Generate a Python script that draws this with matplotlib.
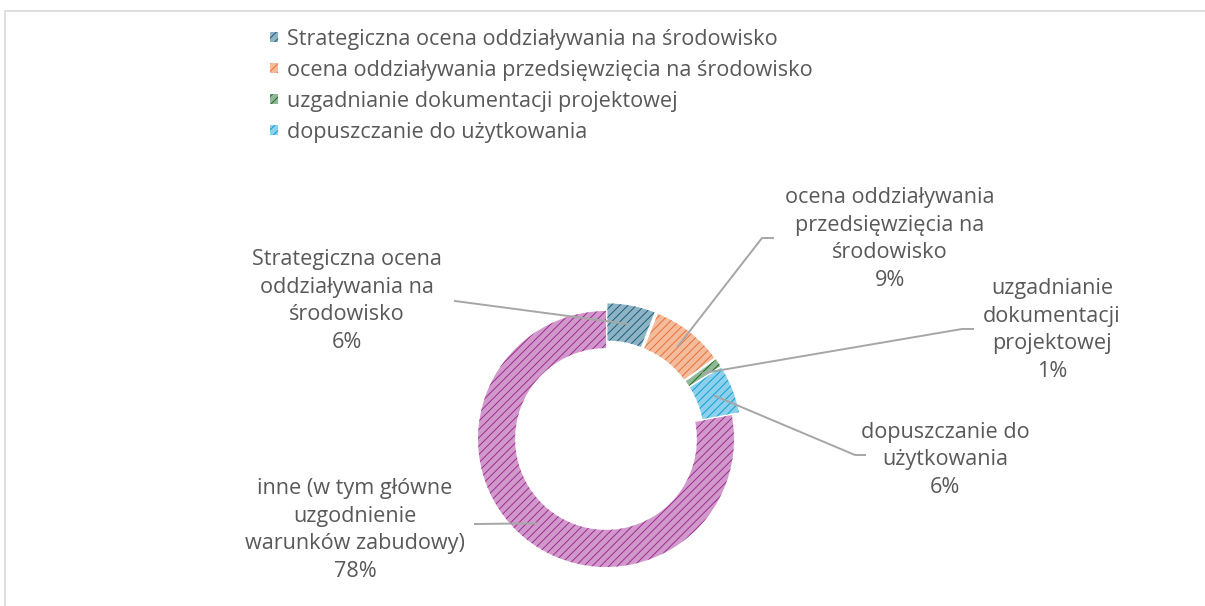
import numpy as np
import matplotlib
matplotlib.use('Agg')
import matplotlib.pyplot as plt
from matplotlib.colors import to_rgb
from matplotlib.patches import Rectangle

plt.rcParams['font.family'] = ['Open Sans', 'DejaVu Sans']
plt.rcParams['hatch.linewidth'] = 0.7

# dane
kategorie = ['Strategiczna ocena oddziaływania na środowisko',
             'ocena oddziaływania przedsięwzięcia na środowisko',
             'uzgadnianie dokumentacji projektowej',
             'dopuszczanie do użytkowania',
             'inne (w tym główne uzgodnienie warunków zabudowy)']
etykiety = ['Strategiczna ocena\noddziaływania na\nśrodowisko',
            'ocena oddziaływania\nprzedsięwzięcia na\nśrodowisko',
            'uzgadnianie\ndokumentacji\nprojektowej',
            'dopuszczanie do\nużytkowania',
            'inne (w tym główne\nuzgodnienie\nwarunków zabudowy)']
procenty = [6, 9, 1, 6, 78]
kolory = ['#156082', '#E97132', '#196B24', '#0F9ED5', '#A02B93']

W, H = 1205, 606
CX, CY, R = 606, 439, 128   # srodek i promien w pikselach


def px(x, y):
    # piksele obrazka -> wspolrzedne osi
    return (x - CX) / R, (CY - y) / R


def jasny(c, t=0.5):
    r, g, b = to_rgb(c)
    return (r + (1 - r) * t, g + (1 - g) * t, b + (1 - b) * t)


fig = plt.figure(figsize=(W / 100, H / 100), dpi=100)
fig.add_artist(Rectangle((5 / W, -0.1), 1.2, 1 - 11 / H + 0.1, transform=fig.transFigure,
                         fill=False, edgecolor='#D9D9D9', linewidth=1.2))
ax = fig.add_axes([0, 0, 1, 1])

szer = 0.29
explode = [0.06, 0.06, 0.06, 0.06, 0]
wedges, _ = ax.pie(procenty, startangle=90, counterclock=False, explode=explode,
                   colors=[jasny(c, 0.52) for c in kolory],
                   wedgeprops=dict(width=szer, linewidth=0))
for w, c in zip(wedges, kolory):
    w.set_edgecolor(c)
    w.set_hatch('////')

ax.set_xlim(-CX / R, (W - CX) / R)
ax.set_ylim(-(H - CY) / R, CY / R)
ax.axis('off')

# pozycje etykiet (piksele) i punkty zalamania linii
pozycje = [(347, 301), (890, 239), (1052, 330), (945, 460), (355, 530)]
linie = [[(455, 301)],
         [(762, 238), (773, 238)],
         [(962, 329), (973, 329)],
         [(855, 455), (865, 455)],
         [(475, 524)]]

for w, et, p, poz, pkt in zip(wedges, etykiety, procenty, pozycje, linie):
    th = np.deg2rad((w.theta1 + w.theta2) / 2)
    rr = w.r - szer / 2
    ax0 = w.center[0] + rr * np.cos(th)
    ay0 = w.center[1] + rr * np.sin(th)
    xs = [ax0] + [px(*q)[0] for q in pkt]
    ys = [ay0] + [px(*q)[1] for q in pkt]
    ax.plot(xs, ys, color='#A6A6A6', linewidth=1.4, zorder=5)
    tx, ty = px(*poz)
    ax.text(tx, ty, f'{et}\n{p}%', ha='center', va='center', fontsize=15.6,
            color='#595959', linespacing=1.43)

leg = fig.legend(wedges[:4], kategorie[:4], loc='upper left',
                 bbox_to_anchor=(270 / W, 1 - 29 / H), frameon=False,
                 fontsize=15.6, labelcolor='#595959', handlelength=0.35,
                 handleheight=0.35, handletextpad=0.42, labelspacing=0.46,
                 borderaxespad=0, borderpad=0)

fig.savefig('out.png', dpi=100)
